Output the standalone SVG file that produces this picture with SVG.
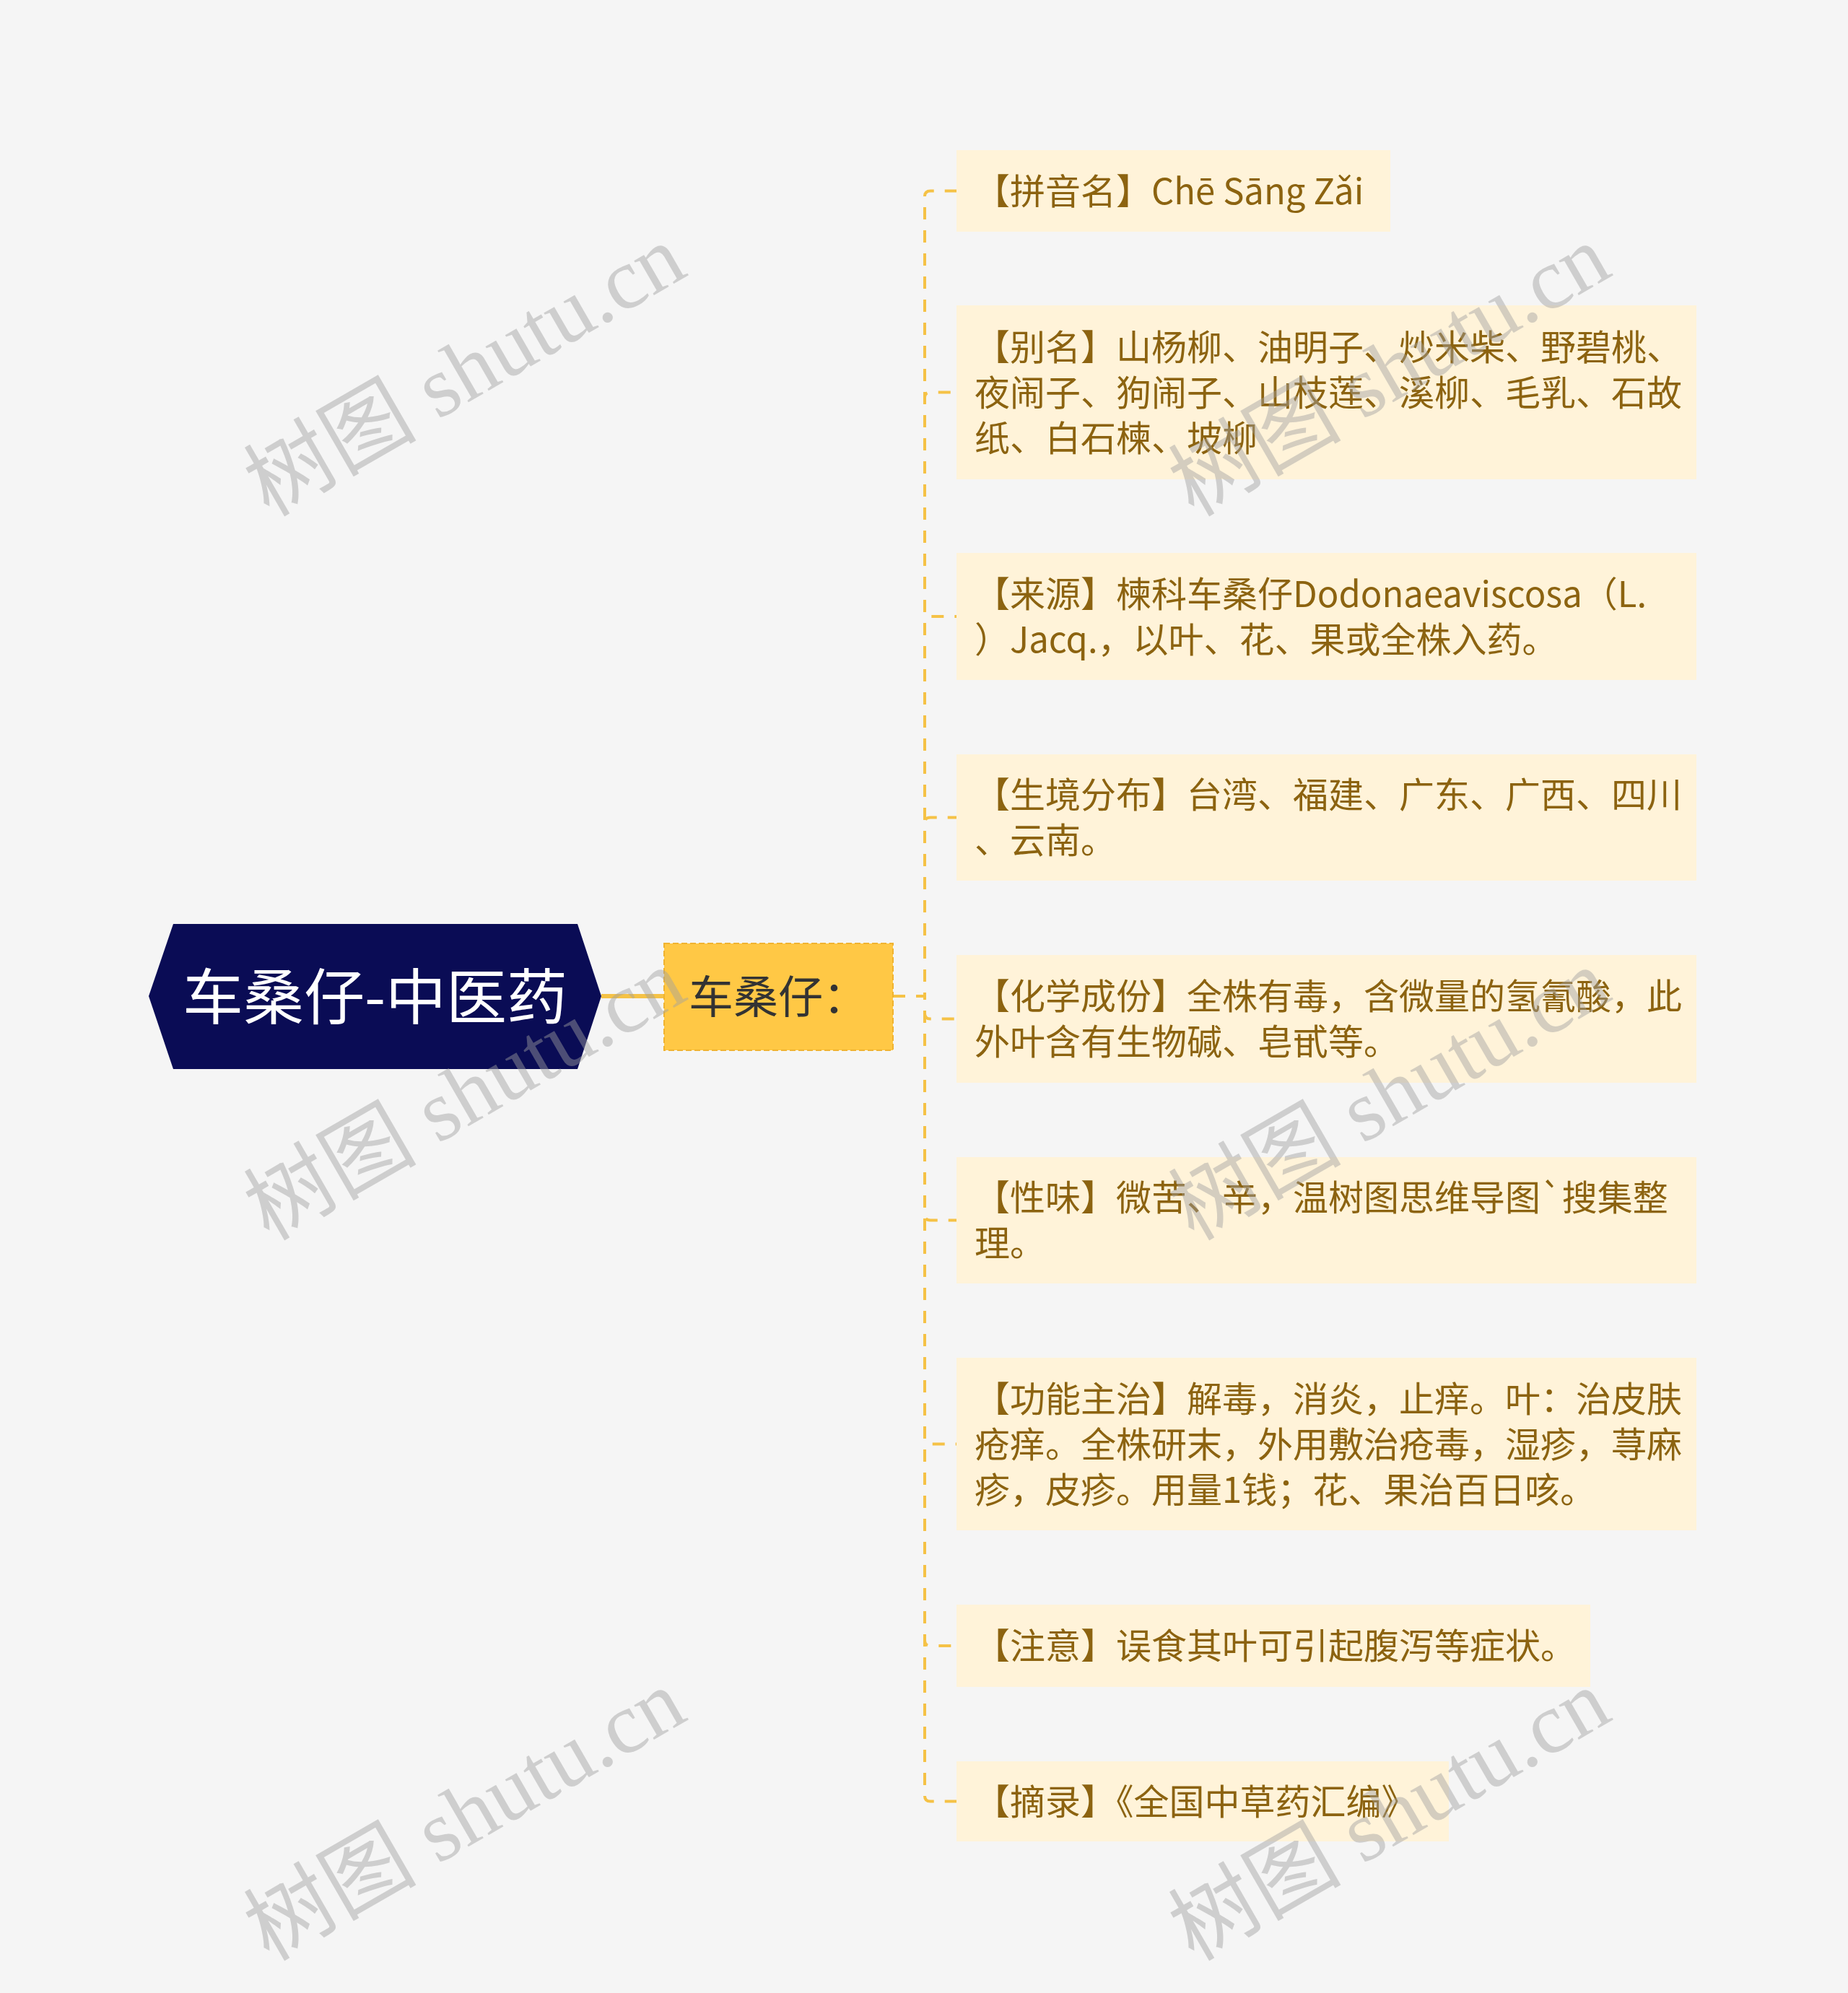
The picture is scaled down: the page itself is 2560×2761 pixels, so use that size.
<svg xmlns="http://www.w3.org/2000/svg" width="2560" height="2761" viewBox="0 0 2560 2761">
<style>
.bg{fill:#f5f5f5}
.leaf rect{fill:#fff3d9}
.leaf text{font-family:"Noto Sans CJK SC","Noto Sans",sans-serif;font-size:49px;fill:#8c6310}
.conn path{fill:none;stroke:#f5c246;stroke-width:4;stroke-dasharray:17 15}
.wm{font-family:"Liberation Serif","Noto Sans CJK SC",serif;font-size:120px;fill:#a0a0a0;fill-opacity:0.45}
</style>
<rect class="bg" x="0" y="0" width="2560" height="2761"/>

<g id="connectors" class="conn">
  <line x1="833" y1="1380" x2="920" y2="1380" style="stroke:#f5c246;stroke-width:6;stroke-dasharray:none"/>
  <path d="M1237 1380 H1281 V272 Q1281 264.5 1289 264.5 H1325"/>
  <path d="M1237 1380 H1281 V551 Q1281 543.5 1289 543.5 H1325"/>
  <path d="M1237 1380 H1281 V862 Q1281 854 1289 854 H1325"/>
  <path d="M1237 1380 H1281 V1140 Q1281 1132.5 1289 1132.5 H1325"/>
  <path d="M1237 1380 H1281 V1404 Q1281 1411.5 1289 1411.5 H1325"/>
  <path d="M1237 1380 H1281 V1683 Q1281 1690.5 1289 1690.5 H1325"/>
  <path d="M1237 1380 H1281 V1993 Q1281 2000.5 1289 2000.5 H1325"/>
  <path d="M1237 1380 H1281 V2272 Q1281 2280 1289 2280 H1325"/>
  <path d="M1237 1380 H1281 V2488 Q1281 2495.5 1289 2495.5 H1325"/>
</g>

<g id="root">
  <polygon points="206,1380 240,1280 800,1280 833,1380 800,1481 240,1481" fill="#0a0c55"/>
  <text x="519.5" y="1412" text-anchor="middle" font-family="'Noto Sans CJK SC','Noto Sans',sans-serif" font-size="84" fill="#ffffff">车桑仔-中医药</text>
</g>

<g id="sub">
  <rect x="920" y="1307" width="317" height="148" fill="#ffc845" stroke="#f0b330" stroke-width="2" stroke-dasharray="8 4"/>
  <text x="1078" y="1404" text-anchor="middle" font-family="'Noto Sans CJK SC','Noto Sans',sans-serif" font-size="62" fill="#333333">车桑仔：</text>
</g>

<g id="n1" class="leaf">
  <rect x="1325" y="208" width="601" height="113"/>
  <text x="1350" y="283">【拼音名】Chē Sāng Zǎi</text>
</g>
<g id="n2" class="leaf">
  <rect x="1325" y="423" width="1025" height="241"/>
  <text x="1350" y="499">【别名】山杨柳、油明子、炒米柴、野碧桃、</text>
  <text x="1350" y="562">夜闹子、狗闹子、山枝莲、溪柳、毛乳、石故</text>
  <text x="1350" y="625">纸、白石楝、坡柳</text>
</g>
<g id="n3" class="leaf">
  <rect x="1325" y="766" width="1025" height="176"/>
  <text x="1350" y="841">【来源】楝科车桑仔Dodonaeaviscosa（L.</text>
  <text x="1350" y="904">）Jacq.，以叶、花、果或全株入药。</text>
</g>
<g id="n4" class="leaf">
  <rect x="1325" y="1045" width="1025" height="175"/>
  <text x="1350" y="1119">【生境分布】台湾、福建、广东、广西、四川</text>
  <text x="1350" y="1182">、云南。</text>
</g>
<g id="n5" class="leaf">
  <rect x="1325" y="1323" width="1025" height="177"/>
  <text x="1350" y="1398">【化学成份】全株有毒，含微量的氢氰酸，此</text>
  <text x="1350" y="1461">外叶含有生物碱、皂甙等。</text>
</g>
<g id="n6" class="leaf">
  <rect x="1325" y="1603" width="1025" height="175"/>
  <text x="1350" y="1677">【性味】微苦、辛，温树图思维导图`搜集整</text>
  <text x="1350" y="1740">理。</text>
</g>
<g id="n7" class="leaf">
  <rect x="1325" y="1881" width="1025" height="239"/>
  <text x="1350" y="1956">【功能主治】解毒，消炎，止痒。叶：治皮肤</text>
  <text x="1350" y="2019">疮痒。全株研末，外用敷治疮毒，湿疹，荨麻</text>
  <text x="1350" y="2082">疹，皮疹。用量1钱；花、果治百日咳。</text>
</g>
<g id="n8" class="leaf">
  <rect x="1325" y="2223" width="878" height="114"/>
  <text x="1350" y="2298">【注意】误食其叶可引起腹泻等症状。</text>
</g>
<g id="n9" class="leaf">
  <rect x="1325" y="2440" width="682" height="111"/>
  <text x="1350" y="2514">【摘录】《全国中草药汇编》</text>
</g>

<g id="watermarks">
  <text class="wm" transform="translate(644 514) rotate(-30)" x="0" y="40" text-anchor="middle">树图 shutu.cn</text>
  <text class="wm" transform="translate(1925 514) rotate(-30)" x="0" y="40" text-anchor="middle">树图 shutu.cn</text>
  <text class="wm" transform="translate(644 1517) rotate(-30)" x="0" y="40" text-anchor="middle">树图 shutu.cn</text>
  <text class="wm" transform="translate(1925 1517) rotate(-30)" x="0" y="40" text-anchor="middle">树图 shutu.cn</text>
  <text class="wm" transform="translate(644 2515) rotate(-30)" x="0" y="40" text-anchor="middle">树图 shutu.cn</text>
  <text class="wm" transform="translate(1925 2515) rotate(-30)" x="0" y="40" text-anchor="middle">树图 shutu.cn</text>
</g>
</svg>
